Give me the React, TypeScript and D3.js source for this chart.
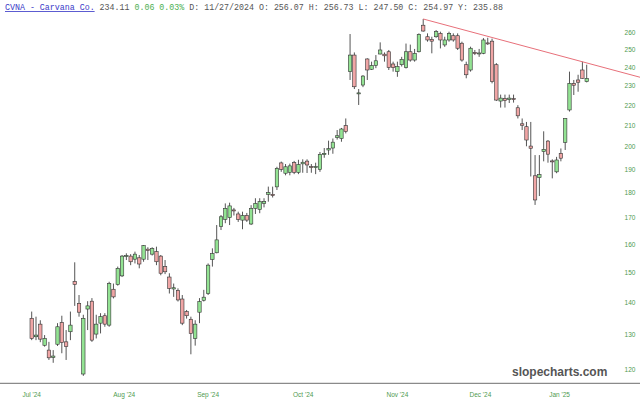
import React from "react";
import * as d3 from "d3";

const opens = [135.1,129.5,133.3,127.0,125.6,123.5,127.3,133.8,128.0,131.0,147.0,139.8,118.9,138.0,140.5,130.3,133.6,135.9,133.0,144.4,146.0,148.9,155.8,155.8,154.7,155.2,154.7,158.3,156.5,157.4,155.8,152.1,148.5,144.5,144.0,141.2,137.2,134.8,129.0,137.0,140.8,143.0,154.6,157.0,166.8,169.5,170.2,173.2,171.6,169.2,171.0,167.7,173.8,173.4,175.8,179.5,179.5,182.6,192.9,188.4,188.8,193.0,188.8,192.5,193.7,191.3,190.8,190.1,196.6,198.7,199.6,204.5,204.0,210.1,237.8,247.0,226.0,230.6,244.8,239.1,241.2,247.6,247.5,248.9,242.0,237.8,241.6,240.0,248.9,244.2,248.9,264.5,257.6,256.0,257.6,259.6,252.8,255.7,258.2,258.2,253.8,241.6,238.7,248.5,247.8,248.0,254.0,255.0,241.6,222.3,223.5,223.0,223.5,218.9,211.0,209.6,200.5,187.3,186.5,198.0,202.8,193.8,189.0,197.2,202.2,217.8,231.5,233.3,238.7,232.4];
const highs = [137.2,135.6,134.5,130.0,128.0,125.6,133.6,135.9,131.5,137.2,153.6,142.5,136.2,140.5,141.5,136.2,136.7,136.7,146.9,146.3,152.1,156.2,156.8,156.5,157.4,156.2,159.8,159.0,159.0,159.2,156.2,154.4,149.8,146.3,144.7,142.5,137.7,135.6,134.5,141.5,144.2,153.2,158.6,167.3,171.2,175.8,176.1,174.0,172.5,172.5,172.0,175.1,177.9,177.9,177.9,182.7,182.7,191.2,193.5,192.4,192.6,193.8,194.3,194.5,194.5,192.4,193.0,197.8,199.6,203.0,204.0,208.0,209.0,213.6,259.2,248.5,228.5,235.9,245.2,243.3,247.0,254.3,248.5,249.9,243.3,243.3,246.0,253.6,253.0,250.5,259.6,268.3,259.6,257.6,261.6,260.6,257.6,260.6,259.6,259.6,254.7,243.3,251.8,249.9,250.5,256.8,257.0,256.5,242.5,225.6,225.6,225.6,225.6,220.2,213.6,211.9,211.9,196.4,196.4,207.4,203.3,194.5,195.6,199.4,213.6,237.8,233.3,236.1,243.3,241.6];
const lows = [128.5,128.5,127.9,126.6,122.8,122.0,126.8,124.7,122.8,128.5,139.0,135.6,118.4,131.5,128.0,129.0,130.5,132.5,132.5,141.4,145.6,148.5,154.4,152.6,153.2,151.5,153.8,154.4,156.0,152.6,149.1,149.5,143.0,141.9,140.4,133.0,135.0,124.4,126.9,133.6,140.4,142.5,152.1,156.8,165.4,168.0,167.3,171.0,168.5,165.7,168.5,167.3,171.6,171.9,174.2,176.5,178.2,181.3,189.0,187.5,187.5,188.0,188.0,188.6,188.5,188.6,188.0,189.0,195.2,196.5,197.0,203.5,202.5,206.4,233.3,228.5,220.3,229.5,233.3,238.7,239.7,247.4,243.3,238.7,237.8,235.0,240.6,239.5,243.3,243.3,248.5,260.6,254.7,248.0,257.0,250.8,251.7,254.7,254.7,249.9,243.3,234.2,237.8,247.0,246.0,247.5,252.8,231.5,222.3,219.0,219.0,221.3,221.5,213.6,208.0,200.4,187.0,175.2,178.8,193.6,193.0,186.2,188.4,193.6,198.7,217.0,225.4,227.1,234.0,232.0];
const closes = [129.0,130.0,128.8,129.0,123.4,123.9,132.5,127.8,126.6,133.0,146.0,137.0,135.1,139.0,128.5,133.3,135.6,133.3,146.3,141.9,151.5,155.8,156.0,153.8,156.5,153.0,159.6,157.8,158.5,153.8,149.8,150.3,144.7,144.9,140.9,133.6,135.9,130.5,133.3,140.4,141.8,152.6,156.7,161.7,170.5,173.8,174.8,172.8,169.5,171.0,169.2,173.8,175.8,176.5,176.6,180.2,179.0,190.5,190.1,191.2,191.6,188.8,192.2,193.2,192.0,190.8,191.3,196.7,197.2,199.3,202.3,205.3,208.5,207.3,247.0,229.7,226.5,235.4,238.7,241.2,243.8,249.9,246.6,240.0,240.0,240.6,244.6,248.9,244.2,248.0,259.0,261.0,255.7,255.0,260.6,255.7,255.7,259.6,255.7,250.9,244.2,236.1,250.9,247.8,248.2,255.7,253.6,232.4,222.8,223.8,222.5,223.8,223.0,214.9,210.3,203.3,199.5,177.2,187.8,199.0,196.8,193.4,194.2,195.0,213.6,231.5,230.5,232.1,234.2,234.1];

const yTicks = [120,130,140,150,160,170,180,190,200,210,220,230,240,250,260];
const xTickLabels = ["Jul '24","Aug '24","Sep '24","Oct '24","Nov '24","Dec '24","Jan '25"];
const xTickIndex = [0, 21.5, 41, 63.1, 85, 104.3, 122.7];

// trendline anchor points: [candle index, price]
const trendIdx = [91, 129];
const trendPrice = [268.3, 242.6];

const W = 640, H = 405;

export default function App() {
  const n = closes.length;
  const x = d3.scaleLinear().domain([0, n - 1]).range([31.7, 586.7]);
  const y = d3.scaleLog().domain([120, 260]).range([370, 32.7]);
  const bw = 3.4;
  const green = "#93e393";
  const pink = "#f0a5a5";
  const labelColor = "#4f9a4f";

  const tx0 = x(trendIdx[0]), ty0 = y(trendPrice[0]);
  const tx1 = x(trendIdx[1]), ty1 = y(trendPrice[1]);
  const slope = (ty1 - ty0) / (tx1 - tx0);
  const txEnd = W;
  const tyEnd = ty0 + slope * (txEnd - tx0);

  return (
    <div style={{ position: "absolute", left: 0, top: 0, width: W, height: H }}>
      <svg width={W} height={H} style={{ display: "block", background: "#fff" }}>
        <rect x={0} y={0} width={W} height={H} fill="#fff" />
        {/* header */}
        <text x={5} y={10} fontFamily="'Liberation Mono', monospace" fontSize={8.3} fill="#555">
          <tspan fill="#3a3ac8" textDecoration="underline">CVNA - Carvana Co.</tspan>
          <tspan> 234.11 </tspan>
          <tspan fill="#4caf50">0.06 0.03%</tspan>
          <tspan> D: 11/27/2024 O: 256.07 H: 256.73 L: 247.50 C: 254.97 Y: 235.88</tspan>
        </text>
        {/* bottom axis line */}
        <line x1={0} x2={W} y1={383.3} y2={383.3} stroke="#8a8a8a" strokeWidth={1.2} />
        {xTickLabels.map((t, k) => (
          <text key={t} x={x(xTickIndex[k])} y={396.5} textAnchor="middle"
            fontFamily="'Liberation Sans', Arial, sans-serif" fontSize={6.5} fill={labelColor}>{t}</text>
        ))}
        {yTicks.map((v) => (
          <text key={v} x={630} y={y(v)} dy="0.35em" textAnchor="middle"
            fontFamily="'Liberation Sans', Arial, sans-serif" fontSize={6.5} fill={labelColor}>{v}</text>
        ))}
        {/* candles */}
        {closes.map((c, i) => {
          const o = opens[i];
          const up = c >= o;
          const cx = x(i);
          const top = y(Math.max(o, c));
          const bot = y(Math.min(o, c));
          const h = Math.max(1, bot - top);
          return (
            <g key={i}>
              <line x1={cx} x2={cx} y1={y(highs[i])} y2={y(lows[i])} stroke="#555" strokeWidth={1} />
              <rect x={cx - bw / 2} y={top} width={bw} height={h}
                fill={up ? green : pink} stroke="#333" strokeWidth={0.6} />
            </g>
          );
        })}
        {/* trendline */}
        <line x1={tx0} y1={ty0} x2={txEnd} y2={tyEnd} stroke="#e8707a" strokeWidth={1} />
        {/* watermark */}
        <text x={512} y={376} fontFamily="'Liberation Sans', Arial, sans-serif" fontWeight="bold"
          fontSize={12} fill="#555">slopecharts.com</text>
      </svg>
    </div>
  );
}
